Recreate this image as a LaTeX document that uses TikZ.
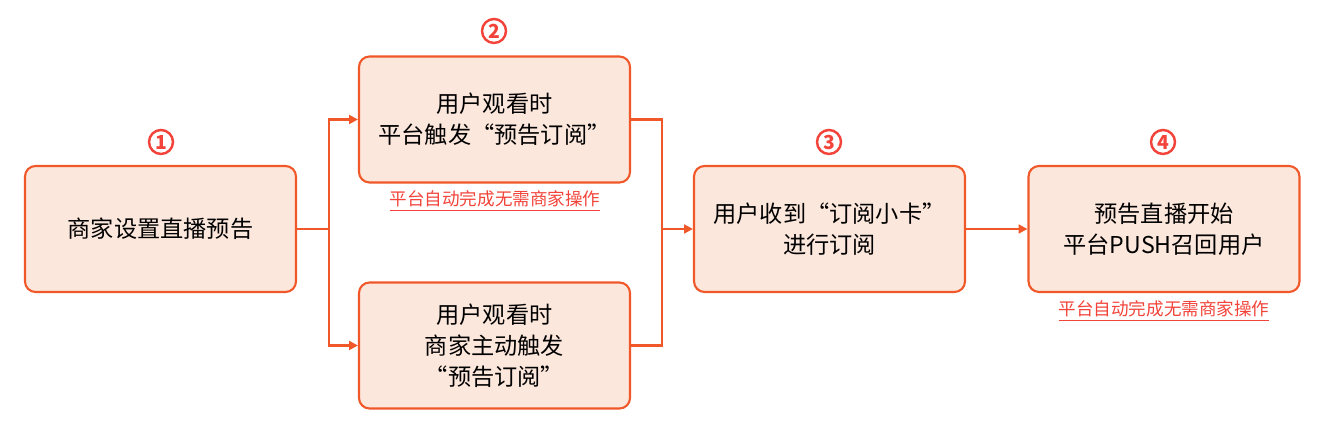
\documentclass[tikz,border=0pt]{standalone}
\usepackage{fontspec}
\setmainfont{Noto Sans CJK SC}
\usepackage{tikz}
\usetikzlibrary{positioning,arrows.meta,calc}
\definecolor{edge}{RGB}{240,88,42}
\definecolor{boxfill}{RGB}{252,231,220}
\definecolor{numred}{RGB}{242,68,58}

\begin{document}
\begin{tikzpicture}[
  box/.style={draw=edge,fill=boxfill,line width=1.2pt,rounded corners=6pt,
    minimum width=5.42cm,minimum height=2.52cm,align=center,
    font=\fontsize{13.2}{17.6}\selectfont,text=black},
  num/.style={draw=numred,text=numred,circle,line width=1.4pt,inner sep=0pt,
    minimum size=0.48cm,font=\fontsize{11}{11}\selectfont\bfseries},
  note/.style={text=numred,font=\fontsize{10}{12}\selectfont},
  link/.style={draw=edge,line width=1.4pt},
  tip/.style={-{Triangle[length=5pt,width=5pt]}}]
\useasboundingbox (0,0) rectangle (26.54,8.76);
% steps
\node[box] (shop) at (3.21,4.18) {商家设置直播预告};
\node[box] (auto) at (9.89,6.37) {用户观看时\\平台触发“预告订阅”};
\node[box] (manual) at (9.89,1.85) {用户观看时\\商家主动触发\\“预告订阅”};
\node[box] (card) at (16.59,4.18) {用户收到“订阅小卡”\\进行订阅};
\node[box] (push) at (23.28,4.18) {预告直播开始\\平台PUSH召回用户};
% step numbers
\node[num] (n1) at (3.22,5.92) {1};
\node[num] (n2) at (9.88,8.14) {2};
\node[num] (n3) at (16.58,5.92) {3};
\node[num] (n4) at (23.26,5.92) {4};
% notes
\node[note] (note1) at (9.9,4.74) {\underline{平台自动完成无需商家操作}};
\node[note] (note2) at (23.28,2.54) {\underline{平台自动完成无需商家操作}};
% connectors
\coordinate (split) at ($(shop.east)+(0.64,0)$);
\coordinate (join) at (13.24,4.18);
\draw[link] (shop.east) -- (split);
\draw[link,tip] (split) |- (auto.west);
\draw[link,tip] (split) |- (manual.west);
\draw[link] (auto.east) -| (join);
\draw[link] (manual.east) -| (join);
\draw[link,tip] (join) -- (card.west);
\draw[link,tip] (card.east) -- (push.west);
\end{tikzpicture}
\end{document}
